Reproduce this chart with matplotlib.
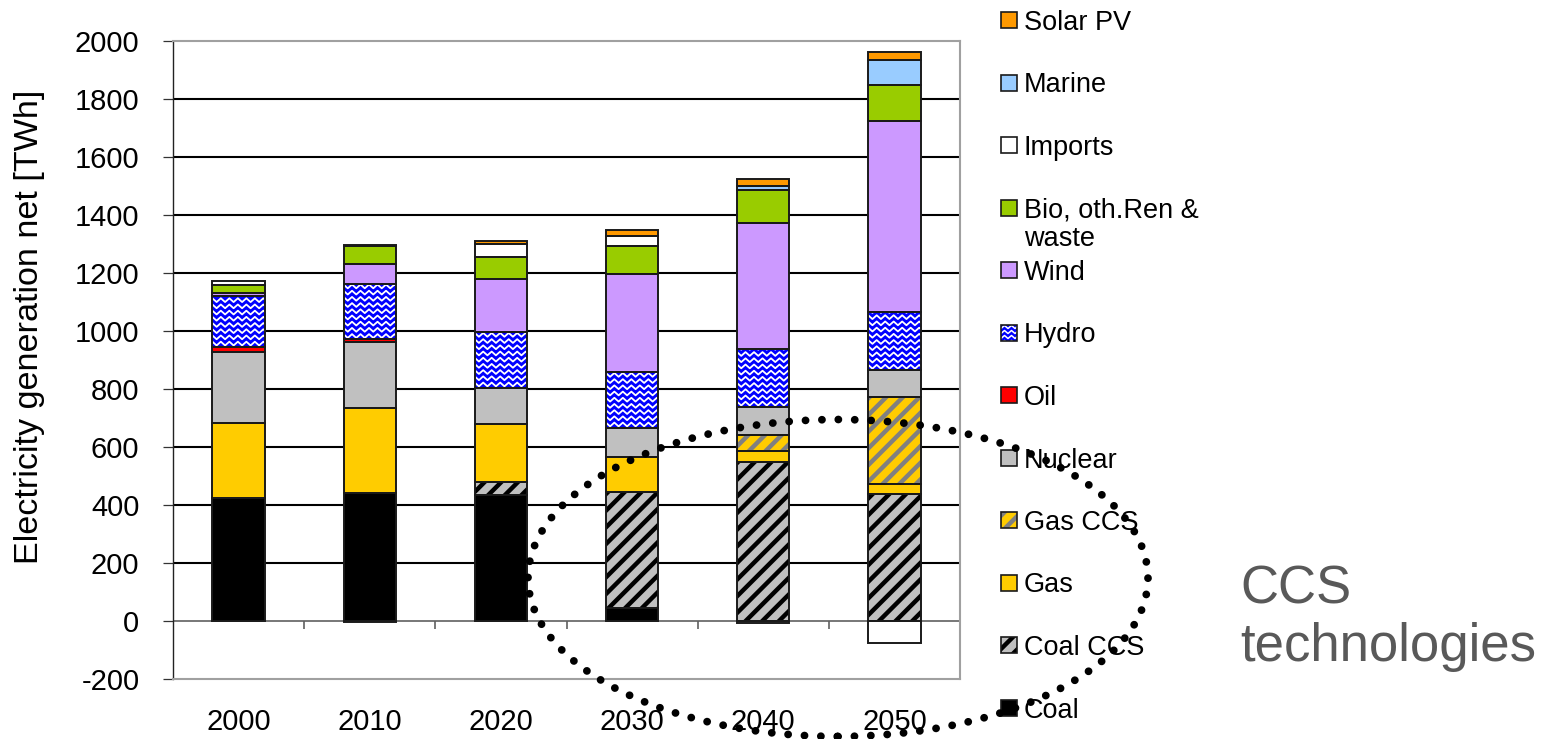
import numpy as np
import matplotlib
matplotlib.use("Agg")
import matplotlib.pyplot as plt
from matplotlib.patches import Rectangle, Ellipse
from matplotlib.collections import LineCollection

plt.rcParams['font.family'] = ['Liberation Sans', 'DejaVu Sans']
plt.rcParams['hatch.linewidth'] = 3.2

# ---- data (TWh), stacked bottom to top ----
years = ['2000', '2010', '2020', '2030', '2040', '2050']
coal = [425, 440, 434, 44, 0, 0]
coal_ccs = [0, 0, 46, 402, 547, 437]
gas = [259, 293, 198, 121, 40, 35]
gas_ccs = [0, 0, 0, 0, 54, 301]
nuclear = [242, 230, 124, 100, 98, 93]
oil = [20, 9, 3, 0, 0, 0]
hydro = [175, 189, 190, 193, 200, 201]
wind = [11, 70, 184, 335, 432, 657]
bio = [25, 62, 77, 98, 115, 124]
imports = [16, -5, 43, 36, -8, -75]
marine = [0, 0, 0, 0, 14, 86]
solar_pv = [0, 3, 11, 19, 24, 27]

series = [
    ('Coal', coal, dict(face='#000000')),
    ('Coal CCS', coal_ccs, dict(face='#c0c0c0', hatch='//', hatch_color='#000000')),
    ('Gas', gas, dict(face='#ffcc00')),
    ('Gas CCS', gas_ccs, dict(face='#ffcc00', hatch='//', hatch_color='#808080')),
    ('Nuclear', nuclear, dict(face='#c0c0c0')),
    ('Oil', oil, dict(face='#ff0000')),
    ('Hydro', hydro, dict(face='#0000ff', waves=True)),
    ('Wind', wind, dict(face='#cc99ff')),
    ('Bio, oth.Ren &\nwaste', bio, dict(face='#99cc00')),
    ('Imports', imports, dict(face='#ffffff')),
    ('Marine', marine, dict(face='#99ccff')),
    ('Solar PV', solar_pv, dict(face='#ff9900')),
]

W, H = 1554, 739
fig = plt.figure(figsize=(W / 100, H / 100), dpi=100)
ax_l, ax_r, ax_t, ax_b = 173, 960, 41, 679
ax = fig.add_axes([ax_l / W, 1 - ax_b / H, (ax_r - ax_l) / W, (ax_b - ax_t) / H])

ymin, ymax = -200, 2000
ax.set_xlim(-0.5, len(years) - 0.5)
ax.set_ylim(ymin, ymax)

# pixels per data unit
sx = (ax_r - ax_l) / len(years)
sy = (ax_b - ax_t) / (ymax - ymin)

EDGE = '#1a1a1a'
BAR_W = 0.40


def wave_segments(x0, x1, y0, y1, step_y, period, amp):
    segs = []
    y = y0 + step_y * 0.5
    while y < y1 + step_y:
        xs = np.arange(x0 - period, x1 + period, period / 2.0)
        ys = y + amp * np.where(np.arange(len(xs)) % 2 == 0, 1, -1)
        segs.append(np.column_stack([xs, ys]))
        y += step_y
    return segs


def draw_segment(x, bottom, height, st):
    if st.get('hatch'):
        ax.bar(x, height, BAR_W, bottom, color=st['face'], edgecolor=st['hatch_color'],
               linewidth=0, hatch=st['hatch'], zorder=2)
    else:
        bars = ax.bar(x, height, BAR_W, bottom, color=st['face'], linewidth=0, zorder=2)
        if st.get('waves'):
            rect = bars[0]
            segs = wave_segments(x - BAR_W / 2, x + BAR_W / 2, bottom, bottom + height,
                                 6.2 / sy, 8.5 / sx, 1.9 / sy)
            lc = LineCollection(segs, colors='white', linewidths=1.3, zorder=2.5)
            ax.add_collection(lc)
            lc.set_clip_path(rect)
    ax.bar(x, height, BAR_W, bottom, fill=False, edgecolor=EDGE, linewidth=1.4, zorder=3)


x = np.arange(len(years))
pos_base = np.zeros(len(years))
neg_base = np.zeros(len(years))
for name, vals, st in series:
    vals = np.asarray(vals, dtype=float)
    for i, v in enumerate(vals):
        if v > 0:
            draw_segment(x[i], pos_base[i], v, st)
            pos_base[i] += v
        elif v < 0:
            draw_segment(x[i], neg_base[i], v, st)
            neg_base[i] += v

# grid, zero line and category separators
yt = np.arange(ymin, ymax + 1, 200)
ax.set_yticks(yt)
ax.set_yticklabels([str(v) for v in yt])
ax.hlines([v for v in yt if v not in (ymin, 0, ymax)], -0.5, len(years) - 0.5,
          colors='black', linewidth=1.5, zorder=0.5)
ax.axhline(0, color='#606060', linewidth=1.2, zorder=1)
ax.vlines(np.arange(len(years) + 1) - 0.5, 0, -8.0 / sy, colors='#606060', linewidth=1.2, zorder=1)

ax.set_xticks(x)
ax.set_xticklabels(years)
ax.tick_params(axis='x', length=0, pad=21, labelsize=21)
ax.tick_params(axis='y', length=7.2, width=0.9, color='#333333', pad=17, labelsize=21)

for s in ('top', 'right', 'bottom'):
    ax.spines[s].set_color('#a0a0a0')
    ax.spines[s].set_linewidth(1.5)
ax.spines['left'].set_color('#222222')
ax.spines['left'].set_linewidth(1.0)

fig.text(30 / W, 1 - 327 / H, 'Electricity generation net [TWh]', rotation=90,
         ha='center', va='center', fontsize=24.6)

# legend, top entry first
def fx(px):
    return px / W


def fy(py):
    return 1 - py / H


leg_y0, leg_step = 20, 62.5
sw = 16
for k, (name, vals, st) in enumerate(reversed(series)):
    cy = leg_y0 + k * leg_step
    box = Rectangle((fx(1001), fy(cy + sw / 2)), sw / W, sw / H, transform=fig.transFigure,
                    facecolor=st['face'], linewidth=0,
                    edgecolor=st.get('hatch_color', 'none'), hatch=st.get('hatch'), zorder=5)
    fig.add_artist(box)
    if st.get('waves'):
        segs = wave_segments(1001, 1001 + sw, 0, sw, 5.0, 7.0, 1.5)
        segs = [np.column_stack([fx(s[:, 0]), fy(cy - sw / 2 + s[:, 1])]) for s in segs]
        lc = LineCollection(segs, colors='white', linewidths=1.1, transform=fig.transFigure, zorder=5.5)
        fig.add_artist(lc)
        lc.set_clip_path(box)
    fig.add_artist(Rectangle((fx(1001), fy(cy + sw / 2)), sw / W, sw / H, transform=fig.transFigure,
                             fill=False, edgecolor=EDGE, linewidth=1.2, zorder=6))
    for j, line in enumerate(name.split('\n')):
        fig.text(fx(1024), fy(cy + 10 + j * 28), line, fontsize=19.5, ha='left', va='baseline')

# dotted ellipse around the CCS technologies
ell = Ellipse((fx(838), fy(578)), 620 / W, 317 / H, transform=fig.transFigure, fill=False,
              edgecolor='black', linewidth=5.6, linestyle=(0, (0.01, 2.1)), zorder=10)
ell.set_capstyle('round')
fig.add_artist(ell)

fig.text(fx(1240), fy(603), 'CCS', fontsize=38, color='#595959', ha='left', va='baseline')
fig.text(fx(1240), fy(661), 'technologies', fontsize=38, color='#595959', ha='left', va='baseline')

fig.savefig('out.png', dpi=100)
